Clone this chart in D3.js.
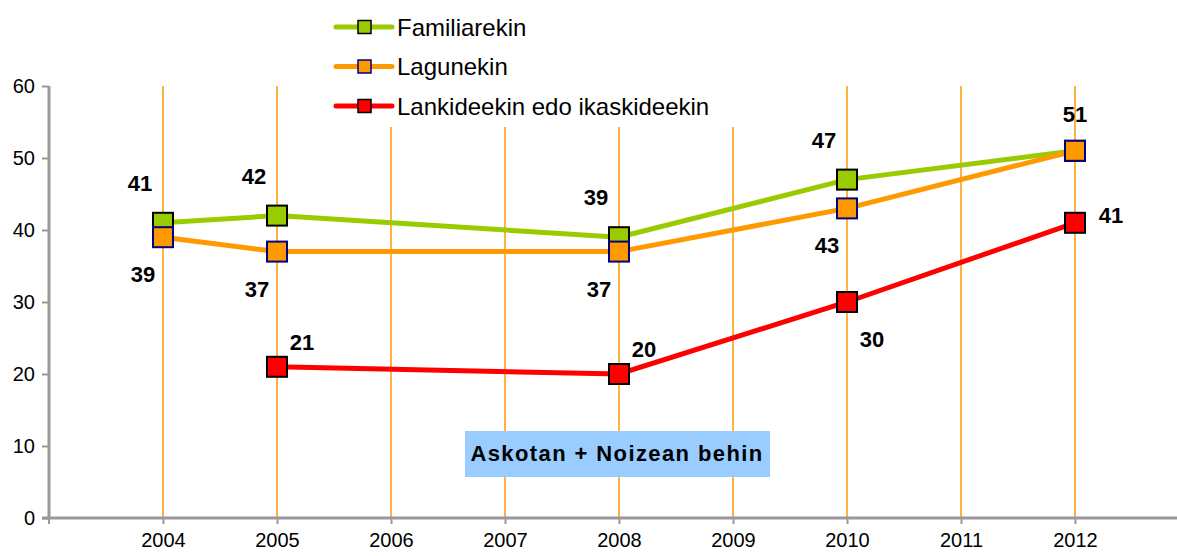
<!DOCTYPE html>
<html>
<head>
<meta charset="utf-8">
<script src="https://cdn.jsdelivr.net/npm/d3@7"></script>
<style>
  body { margin: 0; background: #fff; }
  svg { font-family: "Liberation Sans", Arial, sans-serif; }
</style>
</head>
<body>
<div id="container"></div>
<script>
// data
const years = ["2004", "2005", "2006", "2007", "2008", "2009", "2010", "2011", "2012"];
const familiarekin = [41, 42, null, null, 39, null, 47, null, 51];
const lagunekin = [39, 37, null, null, 37, null, 43, null, 51];
const lankideekin = [null, 21, null, null, 20, null, 30, null, 41];
const yTicks = [0, 10, 20, 30, 40, 50, 60];
const seriesNames = ["Familiarekin", "Lagunekin", "Lankideekin edo ikaskideekin"];
const noteText = "Askotan + Noizean behin";

const width = 1177, height = 556;
const fontFam = "Liberation Sans, Arial, sans-serif";

// where each value label sits relative to its marker (centre offset)
const place = {
  tl: [-23, -40], bl: [-20, 37], tr: [25, -25], br: [25, 37], t: [0, -37], r: [36, -8]
};

let series = [
  { name: seriesNames[0], values: familiarekin, color: "#99CC00", stroke: "#000000",
    labels: ["tl", "tl", null, null, "tl", null, "tl", null, "t"] },
  { name: seriesNames[1], values: lagunekin, color: "#FF9900", stroke: "#000080",
    labels: ["bl", "bl", null, null, "bl", null, "bl", null, null] },
  { name: seriesNames[2], values: lankideekin, color: "#FF0000", stroke: "#000000",
    labels: [null, "tr", null, null, "tr", null, "br", null, "r"] }
];

let svg = d3.select("#container")
  .append("svg")
  .attr("width", width)
  .attr("height", height);

let x = d3.scalePoint()
  .domain(years)
  .range([49, 1189])
  .padding(1);

let y = d3.scaleLinear()
  .domain([0, 60])
  .range([518, 86]);

// vertical grid lines
svg.append("g")
  .selectAll("line")
  .data(years)
  .enter().append("line")
    .attr("x1", d => x(d))
    .attr("x2", d => x(d))
    .attr("y1", y(60))
    .attr("y2", y(0))
    .attr("stroke", "#FF9900")
    .attr("stroke-width", 1.5);

// y axis
let yAxis = svg.append("g")
  .attr("transform", "translate(49,0)")
  .call(d3.axisLeft(y).tickValues(yTicks).tickSize(7).tickPadding(7));
yAxis.select(".domain").attr("stroke", "#999").attr("stroke-width", 3)
  .attr("d", "M0," + y(60) + "V" + y(0));
yAxis.selectAll(".tick line").attr("stroke", "#999").attr("stroke-width", 2);
yAxis.selectAll(".tick text").attr("font-size", 20).attr("fill", "#000")
  .attr("font-family", fontFam);

// x axis
let xAxis = svg.append("g")
  .attr("transform", "translate(0," + y(0) + ")")
  .call(d3.axisBottom(x).tickSize(6).tickPadding(9));
xAxis.select(".domain").attr("stroke", "#999").attr("stroke-width", 3)
  .attr("d", "M42,0H1177");
xAxis.selectAll(".tick line").attr("stroke", "#999").attr("stroke-width", 2);
xAxis.append("line").attr("x1", 49).attr("x2", 49).attr("y1", 0).attr("y2", 6)
  .attr("stroke", "#999").attr("stroke-width", 2);
xAxis.selectAll(".tick text").attr("font-size", 20).attr("fill", "#000")
  .attr("font-family", fontFam);

// legend, with a white box behind it
let legend = svg.append("g");
legend.append("rect")
  .attr("x", 328).attr("y", 0).attr("width", 415).attr("height", 127)
  .attr("fill", "#fff");
let items = legend.selectAll(".item")
  .data(series)
  .enter().append("g")
    .attr("transform", (d, i) => "translate(0," + (27 + i * 39.5) + ")");
items.append("line")
  .attr("x1", 336).attr("x2", 392)
  .attr("stroke", d => d.color).attr("stroke-width", 5)
  .attr("stroke-linecap", "round");
items.append("rect")
  .attr("x", 358).attr("y", -6.5).attr("width", 13).attr("height", 13)
  .attr("fill", d => d.color).attr("stroke", d => d.stroke).attr("stroke-width", 1.5);
items.append("text")
  .attr("x", 397).attr("dy", "0.36em")
  .attr("font-size", 24)
  .text(d => d.name);

// lines
let line = d3.line()
  .x(d => x(d.year))
  .y(d => y(d.value));

series.forEach(function(s) {
  let pts = years.map((yr, i) => ({ year: yr, value: s.values[i], label: s.labels[i] }))
    .filter(d => d.value !== null);
  s.pts = pts;
  svg.append("path")
    .datum(pts)
    .attr("d", line)
    .attr("fill", "none")
    .attr("stroke", s.color)
    .attr("stroke-width", 5);
});

// markers
series.forEach(function(s) {
  svg.append("g")
    .selectAll("rect")
    .data(s.pts)
    .enter().append("rect")
      .attr("x", d => x(d.year) - 10)
      .attr("y", d => y(d.value) - 10)
      .attr("width", 20).attr("height", 20)
      .attr("fill", s.color)
      .attr("stroke", s.stroke)
      .attr("stroke-width", 2);
});

// value labels
series.forEach(function(s) {
  svg.append("g")
    .selectAll("text")
    .data(s.pts.filter(d => d.label))
    .enter().append("text")
      .attr("x", d => x(d.year) + place[d.label][0])
      .attr("y", d => y(d.value) + place[d.label][1])
      .attr("text-anchor", "middle")
      .attr("dy", "0.36em")
      .attr("font-size", 22)
      .attr("font-weight", "bold")
      .text(d => d.value);
});

// note box
let note = svg.append("g");
note.append("rect")
  .attr("x", 465).attr("y", 431).attr("width", 305).attr("height", 46)
  .attr("fill", "#99CCFF");
note.append("text")
  .attr("x", 617).attr("y", 453).attr("dy", "0.36em")
  .attr("text-anchor", "middle")
  .attr("font-size", 22).attr("font-weight", "bold")
  .attr("letter-spacing", 1.4)
  .text(noteText);
</script>
</body>
</html>
